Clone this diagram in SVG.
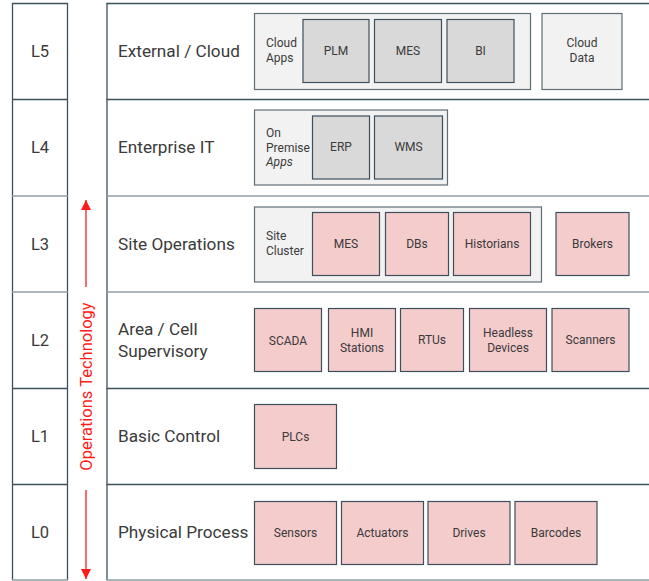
<svg xmlns="http://www.w3.org/2000/svg" width="649" height="581" viewBox="0 0 649 581">
<defs>
<style>
text{font-family:Roboto,"Liberation Sans",sans-serif;fill:#3a3a3a}
.lvl{font-size:16.5px;text-anchor:middle}
.row{font-size:17.2px}
.sm{font-size:12px}
.c{text-anchor:middle}
.pink{fill:#f4cccc;stroke:#3d4f5c;stroke-width:1.2}
.gray{fill:#d9d9d9;stroke:#3d4f5c;stroke-width:1.2}
.cont{fill:#f2f2f2;stroke:#5f6e76;stroke-width:1.2}
.dk{stroke:#3d4f5c;stroke-width:1.3}
.lt{stroke:#8f9ea3;stroke-width:1.3}
.ot{fill:#ff1a1a;font-size:16.5px}
</style>
<marker id="ah" viewBox="0 0 10 10" refX="10" refY="5" markerWidth="10" markerHeight="10" markerUnits="userSpaceOnUse" orient="auto"><path d="M0,0 L10,5 L0,10 z" fill="#ff1a1a"/></marker>
</defs>
<rect width="649" height="581" fill="#fff"/>
<g id="grid">
<line class="dk" x1="12.5" y1="3" x2="12.5" y2="580"/>
<line class="dk" x1="67.5" y1="3" x2="67.5" y2="580"/>
<line class="dk" x1="107" y1="3" x2="107" y2="580"/>
<line class="dk" x1="12" y1="3.5" x2="68" y2="3.5"/><line class="dk" x1="106.5" y1="3.5" x2="649" y2="3.5"/>
<line class="dk" x1="12" y1="99.5" x2="68" y2="99.5"/><line class="dk" x1="106.5" y1="99.5" x2="649" y2="99.5"/>
<line class="lt" x1="12" y1="196" x2="68" y2="196"/><line class="lt" x1="106.5" y1="196" x2="649" y2="196"/>
<line class="lt" x1="12" y1="292" x2="68" y2="292"/><line class="lt" x1="106.5" y1="292" x2="649" y2="292"/>
<line class="dk" x1="12" y1="388.5" x2="68" y2="388.5"/><line class="dk" x1="106.5" y1="388.5" x2="649" y2="388.5"/>
<line class="dk" x1="12" y1="484.5" x2="68" y2="484.5"/><line class="dk" x1="106.5" y1="484.5" x2="649" y2="484.5"/>
<line class="lt" x1="12" y1="580" x2="68" y2="580"/><line class="lt" x1="106.5" y1="580" x2="649" y2="580"/>
</g>
<g id="levels">
<text class="lvl" x="40" y="57">L5</text>
<text class="lvl" x="40" y="153">L4</text>
<text class="lvl" x="40" y="250">L3</text>
<text class="lvl" x="40" y="346">L2</text>
<text class="lvl" x="40" y="442">L1</text>
<text class="lvl" x="40" y="538">L0</text>
</g>
<g id="rowlabels">
<text class="row" x="118" y="57">External / Cloud</text>
<text class="row" x="118" y="153">Enterprise IT</text>
<text class="row" x="118" y="250">Site Operations</text>
<text class="row" x="118" y="335">Area / Cell</text>
<text class="row" x="118" y="357">Supervisory</text>
<text class="row" x="118" y="442">Basic Control</text>
<text class="row" x="118" y="538">Physical Process</text>
</g>
<g id="connectors">
<line x1="86" y1="287" x2="86" y2="200" stroke="#ff1a1a" stroke-width="1.3" marker-end="url(#ah)"/>
<line x1="86" y1="490" x2="86" y2="579" stroke="#ff1a1a" stroke-width="1.3" marker-end="url(#ah)"/>
</g>
<g id="ot-label"><text class="ot" transform="translate(92,386.5) rotate(-90)" text-anchor="middle">Operations Technology</text></g>
<g id="cloud-apps"><rect class="cont" x="254.5" y="13.5" width="276" height="76"/><text class="sm" x="266" y="47">Cloud</text><text class="sm" x="266" y="62">Apps</text></g>
<g id="plm"><rect class="gray" x="303" y="19.5" width="66" height="63"/><text class="sm c" x="336" y="55">PLM</text></g>
<g id="mes-cloud"><rect class="gray" x="374.5" y="19.5" width="67" height="63"/><text class="sm c" x="408" y="55">MES</text></g>
<g id="bi"><rect class="gray" x="447" y="19.5" width="67" height="63"/><text class="sm c" x="480.5" y="55">BI</text></g>
<g id="cloud-data"><rect class="cont" x="542" y="13.5" width="80" height="76"/><text class="sm c" x="582" y="47">Cloud</text><text class="sm c" x="582" y="62">Data</text></g>
<g id="onprem-apps"><rect class="cont" x="254.5" y="110" width="193" height="75"/><text class="sm" x="266" y="137">On</text><text class="sm" x="266" y="151.5">Premise</text><text class="sm" x="266" y="166" font-style="italic">Apps</text></g>
<g id="erp"><rect class="gray" x="312.5" y="116" width="57" height="63"/><text class="sm c" x="341" y="151">ERP</text></g>
<g id="wms"><rect class="gray" x="374.5" y="116" width="68" height="63"/><text class="sm c" x="408.5" y="151">WMS</text></g>
<g id="site-cluster"><rect class="cont" x="254.5" y="207" width="287" height="75"/><text class="sm" x="266" y="240">Site</text><text class="sm" x="266" y="255">Cluster</text></g>
<g id="mes-site"><rect class="pink" x="312.5" y="212.5" width="67" height="63"/><text class="sm c" x="346" y="248">MES</text></g>
<g id="dbs"><rect class="pink" x="385.5" y="212.5" width="63" height="63"/><text class="sm c" x="417" y="248">DBs</text></g>
<g id="historians"><rect class="pink" x="453.5" y="212.5" width="77" height="63"/><text class="sm c" x="492" y="248">Historians</text></g>
<g id="brokers"><rect class="pink" x="556" y="212.5" width="73" height="63"/><text class="sm c" x="592.5" y="248">Brokers</text></g>
<g id="scada"><rect class="pink" x="254.5" y="308.5" width="67" height="63"/><text class="sm c" x="288" y="344.5">SCADA</text></g>
<g id="hmi"><rect class="pink" x="328.5" y="308.5" width="67" height="63"/><text class="sm c" x="362" y="337">HMI</text><text class="sm c" x="362" y="352">Stations</text></g>
<g id="rtus"><rect class="pink" x="400.5" y="308.5" width="63" height="63"/><text class="sm c" x="432" y="344">RTUs</text></g>
<g id="headless"><rect class="pink" x="469.5" y="308.5" width="77" height="63"/><text class="sm c" x="508" y="337">Headless</text><text class="sm c" x="508" y="352">Devices</text></g>
<g id="scanners"><rect class="pink" x="552" y="308.5" width="77" height="63"/><text class="sm c" x="590.5" y="344">Scanners</text></g>
<g id="plcs"><rect class="pink" x="254.5" y="404.5" width="82" height="64"/><text class="sm c" x="295.5" y="441">PLCs</text></g>
<g id="sensors"><rect class="pink" x="254.5" y="501.5" width="82" height="63"/><text class="sm c" x="295.5" y="537">Sensors</text></g>
<g id="actuators"><rect class="pink" x="341.5" y="501.5" width="82" height="63"/><text class="sm c" x="382.5" y="537">Actuators</text></g>
<g id="drives"><rect class="pink" x="428" y="501.5" width="82" height="63"/><text class="sm c" x="469" y="537">Drives</text></g>
<g id="barcodes"><rect class="pink" x="515" y="501.5" width="82" height="63"/><text class="sm c" x="556" y="537">Barcodes</text></g>
</svg>
